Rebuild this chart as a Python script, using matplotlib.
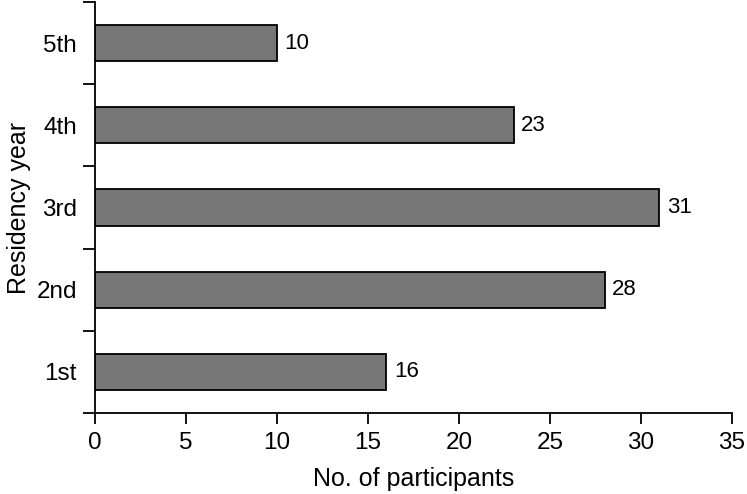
import matplotlib
matplotlib.use("Agg")
import matplotlib.pyplot as plt
import numpy as np

years = ["1st", "2nd", "3rd", "4th", "5th"]
participants = [16, 28, 31, 23, 10]
x_ticks = [0, 5, 10, 15, 20, 25, 30, 35]

plt.rcParams["font.family"] = ["Liberation Sans", "DejaVu Sans"]

fig = plt.figure(figsize=(7.47, 4.94), dpi=100)
ax = fig.add_axes([0.1272, 0.164, 0.8528, 0.832])

pos = np.arange(len(years))
bars = ax.barh(pos, participants, height=0.44, color="#777777",
               edgecolor="black", linewidth=1.3)
for b, v in zip(bars, participants):
    ax.annotate(str(v), (b.get_width(), b.get_y() + b.get_height() / 2),
                xytext=(5.5, 0), textcoords="offset points",
                va="center", ha="left", fontsize=16)

ax.set_xlim(0, 35)
ax.set_ylim(-0.5, len(years) - 0.5)
ax.set_xticks(x_ticks)
ax.set_xticklabels([str(t) for t in x_ticks], fontsize=17.5)

# etiquetas en el centro, ticks en los bordes de cada categoría
ax.set_yticks(pos)
ax.set_yticklabels(years, fontsize=17.5)
ax.set_yticks(np.arange(-0.5, len(years)), minor=True)
ax.tick_params(axis="y", which="major", length=0, pad=13)
ax.tick_params(axis="y", which="minor", length=9, width=1.3)
ax.tick_params(axis="x", length=8, width=1.3, pad=6)

for s in ["top", "right"]:
    ax.spines[s].set_visible(False)
for s in ["left", "bottom"]:
    ax.spines[s].set_linewidth(1.3)

ax.set_xlabel("No. of participants", fontsize=18, labelpad=9)
ax.set_ylabel("Residency year", fontsize=18, labelpad=4)

fig.savefig("out.png", dpi=100)
